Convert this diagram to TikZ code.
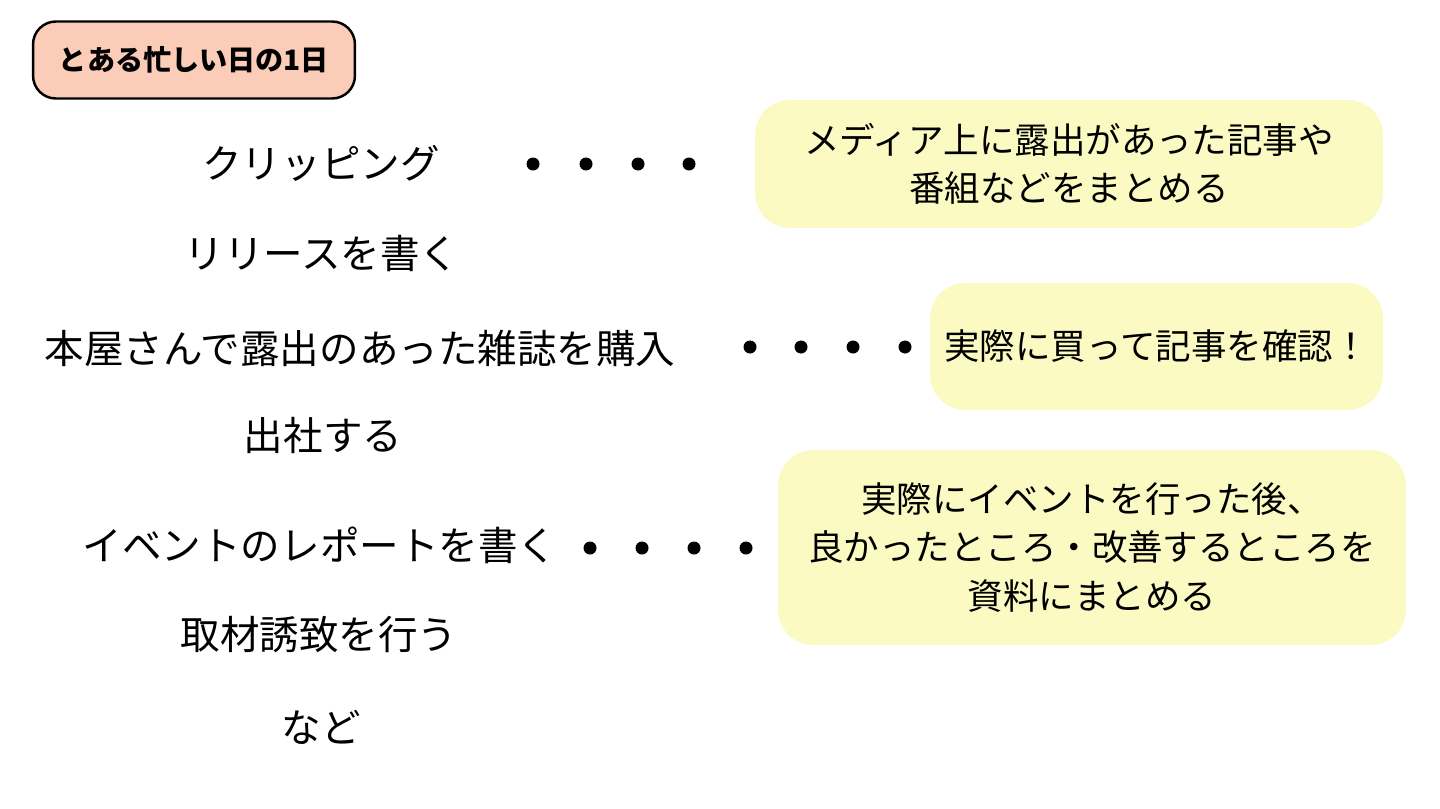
\documentclass[tikz,border=0pt]{standalone}
\usepackage{fontspec}
\setmainfont{Noto Sans CJK JP}
\usetikzlibrary{positioning}

\definecolor{titlefill}{RGB}{251,204,184}
\definecolor{notefill}{RGB}{250,250,194}

\begin{document}
\begin{tikzpicture}[x=0.02cm, y=-0.02cm,
  tag/.style={draw, line width=1.4pt, rounded corners=13pt, fill=titlefill,
    minimum width=6.44cm, minimum height=1.54cm, font=\fontsize{16}{18}\selectfont\bfseries},
  task/.style={font=\fontsize{22.5}{25}\selectfont},
  note/.style={fill=notefill, rounded corners=20pt, align=center,
    font=\fontsize{20.2}{27.5}\selectfont},
  dot/.style={fill=black}
]
  \useasboundingbox (0,0) rectangle (1440,808);

  \node[tag] (title) at (194, 60) {とある忙しい日の1日};

  % tasks of the day
  \node[task] (clip) at (321, 163) {クリッピング};
  \node[task] (release) at (322, 253) {リリースを書く};
  \node[task] (book) at (360, 348) {本屋さんで露出のあった雑誌を購入};
  \node[task] (work) at (323, 435) {出社する};
  \node[task] (event) at (320, 545) {イベントのレポートを書く};
  \node[task] (invite) at (319, 635) {取材誘致を行う};
  \node[task] (etc) at (321, 727) {など};

  % notes
  \node[note, minimum width=12.56cm, minimum height=2.56cm] (clipnote) at (1069, 164)
    {メディア上に露出があった記事や\\番組などをまとめる};
  \node[note, minimum width=9.06cm, minimum height=2.54cm] (booknote) at (1156.5, 346.5)
    {実際に買って記事を確認！};
  \node[note, minimum width=12.56cm, minimum height=3.9cm] (eventnote) at (1092, 547.5)
    {実際にイベントを行った後、\\良かったところ・改善するところを\\資料にまとめる};

  % leader dots
  \foreach \x in {533, 586, 638, 689} \fill[dot] (\x, 164) circle (0.13cm);
  \foreach \x in {750, 801, 853, 905} \fill[dot] (\x, 347) circle (0.13cm);
  \foreach \x in {590, 642, 694, 746} \fill[dot] (\x, 548) circle (0.13cm);
\end{tikzpicture}
\end{document}
